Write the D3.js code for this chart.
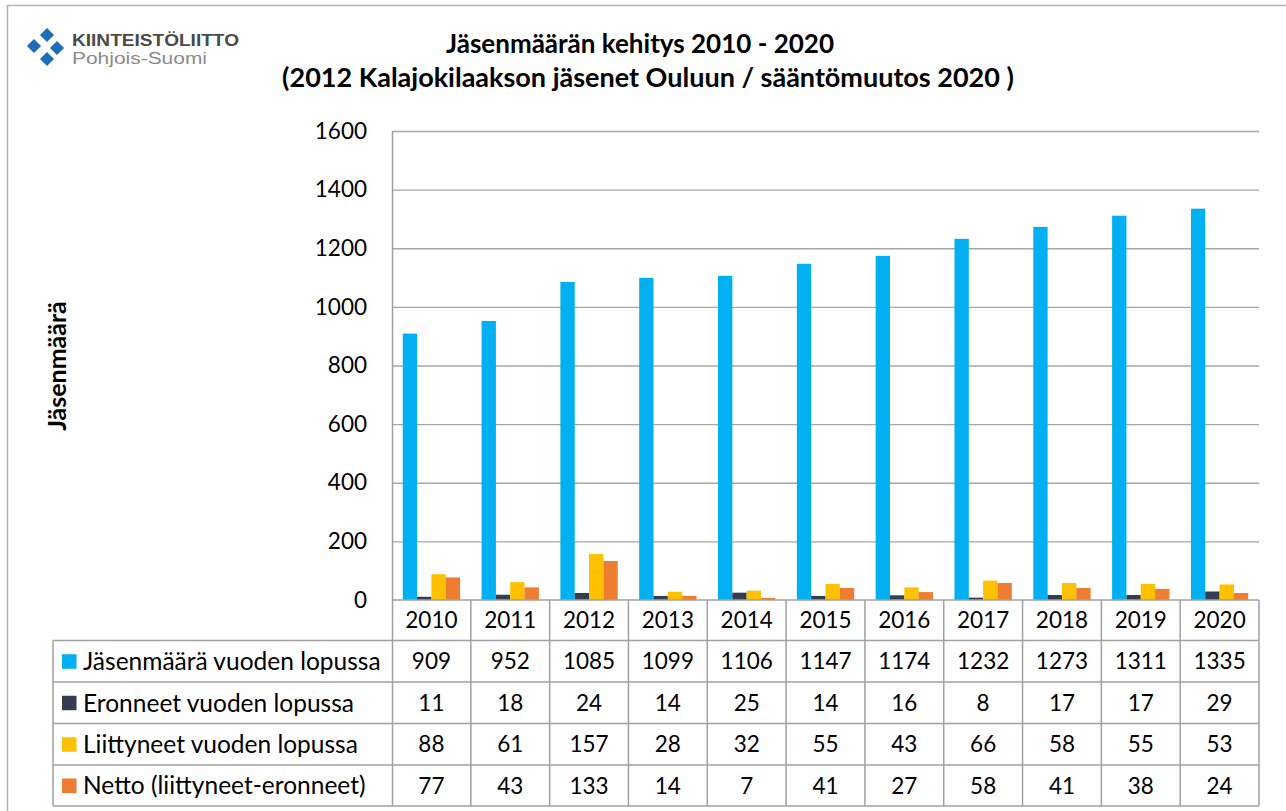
<!DOCTYPE html>
<html>
<head>
<meta charset="utf-8">
<script src="https://cdn.jsdelivr.net/npm/d3@7"></script>
<style>
  html, body { margin: 0; padding: 0; background: #fff; }
  svg { display: block; }
</style>
</head>
<body>
<div id="chart"></div>
<script>
// Jäsenmäärän kehitys 2010 - 2020, clustered columns with a data table underneath

const years = ["2010", "2011", "2012", "2013", "2014", "2015", "2016", "2017", "2018", "2019", "2020"];

const seriesNames = [
  "Jäsenmäärä vuoden lopussa",
  "Eronneet vuoden lopussa",
  "Liittyneet vuoden lopussa",
  "Netto (liittyneet-eronneet)"
];

const jasenmaara = [909, 952, 1085, 1099, 1106, 1147, 1174, 1232, 1273, 1311, 1335];
const eronneet   = [11, 18, 24, 14, 25, 14, 16, 8, 17, 17, 29];
const liittyneet = [88, 61, 157, 28, 32, 55, 43, 66, 58, 55, 53];
const netto      = [77, 43, 133, 14, 7, 41, 27, 58, 41, 38, 24];

const yTicks = [0, 200, 400, 600, 800, 1000, 1200, 1400, 1600];

const colors = ["#00b0f0", "#333f50", "#ffc000", "#ed7d31"];

const seriesValues = [jasenmaara, eronneet, liittyneet, netto];

const W = 1286, H = 811;
const FONT = "Lato, 'Open Sans', sans-serif";
const plot = { left: 392, right: 1259, top: 131, bottom: 600 };
const rowEdges = [600, 640.5, 682, 723.5, 765, 806];
const tableLeft = 53;
const gridColor = "#a6a6a6";
const tableColor = "#a0a0a0";
const numSize = "22.5px";

const svg = d3.select("#chart").append("svg")
  .attr("width", W).attr("height", H)
  .attr("viewBox", `0 0 ${W} ${H}`);

// Outer chart frame
svg.append("rect")
  .attr("x", 7.5).attr("y", 5.5)
  .attr("width", W + 10).attr("height", H + 10)
  .attr("fill", "none")
  .attr("stroke", "#b3b3b3")
  .attr("stroke-width", 1.5);

// Logo (Kiinteistöliitto Pohjois-Suomi)
const logo = svg.append("g").attr("transform", "translate(46,47)");
[[1, -12], [11, 1], [-12, -1], [1, 12]].forEach(([dx, dy]) => {
  logo.append("rect")
    .attr("x", -5).attr("y", -5)
    .attr("width", 10).attr("height", 10)
    .attr("fill", "#1f6db4")
    .attr("transform", `translate(${dx},${dy}) rotate(45)`);
});
svg.append("text")
  .attr("x", 72).attr("y", 45.5)
  .attr("font-family", "'Liberation Sans', Arial, sans-serif")
  .attr("font-size", "17px").attr("font-weight", "bold")
  .attr("textLength", 167).attr("lengthAdjust", "spacingAndGlyphs")
  .attr("fill", "#4a4a4a")
  .text("KIINTEISTÖLIITTO");
svg.append("text")
  .attr("x", 72).attr("y", 63.5)
  .attr("font-family", "'Liberation Sans', Arial, sans-serif")
  .attr("font-size", "16px")
  .attr("textLength", 135).attr("lengthAdjust", "spacingAndGlyphs")
  .attr("fill", "#8a8a8a")
  .text("Pohjois-Suomi");

// Title
svg.append("text")
  .attr("x", 640).attr("y", 53)
  .attr("text-anchor", "middle")
  .attr("font-family", FONT).attr("font-size", "26px").attr("font-weight", "bold")
  .attr("fill", "#000")
  .text("Jäsenmäärän kehitys 2010 - 2020");
svg.append("text")
  .attr("x", 648).attr("y", 87)
  .attr("text-anchor", "middle")
  .attr("font-family", FONT).attr("font-size", "27px").attr("font-weight", "bold")
  .attr("fill", "#000")
  .text("(2012 Kalajokilaakson jäsenet Ouluun / sääntömuutos 2020 )");

// Y axis title
svg.append("text")
  .attr("transform", "translate(66,366) rotate(-90)")
  .attr("text-anchor", "middle")
  .attr("font-family", FONT).attr("font-size", "25px").attr("font-weight", "bold")
  .attr("fill", "#000")
  .text("Jäsenmäärä");

// Scales
const x = d3.scaleBand().domain(years).range([plot.left, plot.right]);
const bw = x.bandwidth();
const barW = bw / 5.5; // Excel gap width 150%
const xs = d3.scaleBand().domain(seriesNames).range([barW * 0.75, bw - barW * 0.75]);
const y = d3.scaleLinear().domain([0, 1600]).range([plot.bottom, plot.top]);

// Grid lines
svg.append("g").selectAll("line")
  .data(yTicks.filter(t => t > 0))
  .join("line")
    .attr("x1", plot.left).attr("x2", plot.right)
    .attr("y1", d => y(d) + 0.5).attr("y2", d => y(d) + 0.5)
    .attr("stroke", gridColor).attr("stroke-width", 1.3);

// Y tick labels
const yAxis = svg.append("g")
  .attr("transform", `translate(${plot.left},0)`)
  .call(d3.axisLeft(y).tickValues(yTicks).tickFormat(d3.format("d")).tickSize(0).tickPadding(25));
yAxis.select(".domain").remove();
yAxis.selectAll("text")
  .attr("font-family", FONT).attr("font-size", numSize).attr("fill", "#000");

// Bars
seriesNames.forEach((name, si) => {
  svg.append("g").selectAll("rect")
    .data(years.map((yr, i) => ({ yr, v: seriesValues[si][i] })))
    .join("rect")
      .attr("x", d => x(d.yr) + xs(name))
      .attr("y", d => y(d.v))
      .attr("width", xs.bandwidth())
      .attr("height", d => y(0) - y(d.v))
      .attr("fill", colors[si]);
});

// Plot left axis line, continues down the table
svg.append("line")
  .attr("x1", plot.left + 0.5).attr("x2", plot.left + 0.5)
  .attr("y1", plot.top).attr("y2", rowEdges[rowEdges.length - 1])
  .attr("stroke", tableColor).attr("stroke-width", 1.5);

// Data table grid
const table = svg.append("g");
rowEdges.forEach((ry, i) => {
  table.append("line")
    .attr("x1", i === 0 ? plot.left : tableLeft)
    .attr("x2", plot.right)
    .attr("y1", ry).attr("y2", ry)
    .attr("stroke", tableColor).attr("stroke-width", 1.5);
});
table.append("line")
  .attr("x1", tableLeft).attr("x2", tableLeft)
  .attr("y1", rowEdges[1]).attr("y2", rowEdges[rowEdges.length - 1])
  .attr("stroke", tableColor).attr("stroke-width", 1.5);
years.forEach(yr => {
  table.append("line")
    .attr("x1", x(yr) + bw).attr("x2", x(yr) + bw)
    .attr("y1", rowEdges[0]).attr("y2", rowEdges[rowEdges.length - 1])
    .attr("stroke", tableColor).attr("stroke-width", 1.5);
});

const rowMid = i => (rowEdges[i] + rowEdges[i + 1]) / 2;

// Year header row
table.append("g").selectAll("text")
  .data(years)
  .join("text")
    .attr("x", d => x(d) + bw / 2)
    .attr("y", rowMid(0))
    .attr("dy", "0.36em")
    .attr("text-anchor", "middle")
    .attr("font-family", FONT).attr("font-size", numSize).attr("fill", "#000")
    .text(d => d);

// Series rows: legend key, name and values
seriesNames.forEach((name, si) => {
  const cy = rowMid(si + 1);
  table.append("rect")
    .attr("x", 62).attr("y", cy - 7)
    .attr("width", 14.5).attr("height", 14.5)
    .attr("fill", colors[si]);
  table.append("text")
    .attr("x", 83).attr("y", cy)
    .attr("dy", "0.36em")
    .attr("font-family", FONT).attr("font-size", "24.5px").attr("fill", "#000")
    .text(name);
  table.append("g").selectAll("text")
    .data(seriesValues[si])
    .join("text")
      .attr("x", (d, i) => x(years[i]) + bw / 2)
      .attr("y", cy)
      .attr("dy", "0.36em")
      .attr("text-anchor", "middle")
      .attr("font-family", FONT).attr("font-size", numSize).attr("fill", "#000")
      .text(d => d);
});
</script>
</body>
</html>
